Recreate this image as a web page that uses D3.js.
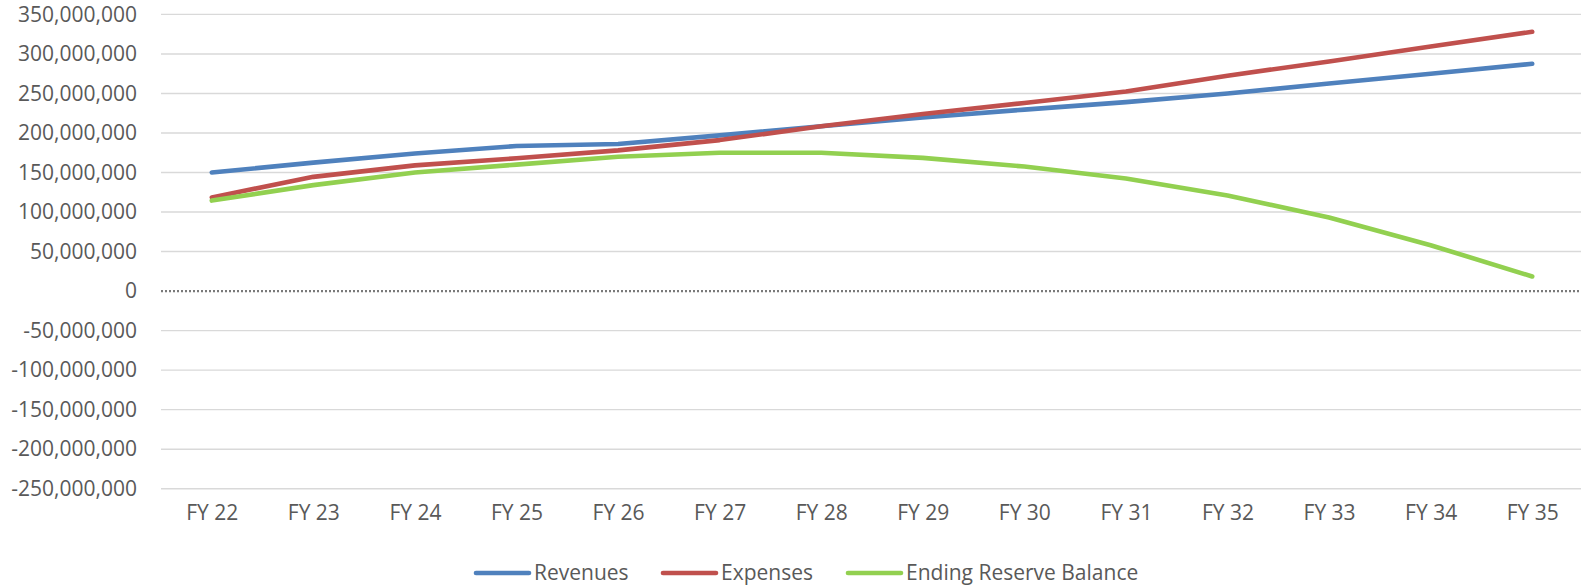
<!DOCTYPE html>
<html>
<head>
<meta charset="utf-8">
<script src="https://cdn.jsdelivr.net/npm/d3@7"></script>
<style>
  html, body { margin: 0; padding: 0; background: #fff; overflow: hidden; }
  svg { display: block; }
  text { font-family: "Open Sans", "Liberation Sans", sans-serif; fill: #595959; }
</style>
</head>
<body>
<svg id="chart" width="1581" height="586"></svg>
<script>
// Fiscal years on the category axis
const years = ["FY 22", "FY 23", "FY 24", "FY 25", "FY 26", "FY 27", "FY 28",
               "FY 29", "FY 30", "FY 31", "FY 32", "FY 33", "FY 34", "FY 35"];

// Projected amounts per year
const revenues = [150000000, 162500000, 174000000, 183500000, 186000000, 197000000, 208500000,
                  219500000, 229500000, 239000000, 250000000, 262500000, 275000000, 287500000];
const expenses = [118500000, 144500000, 159000000, 168000000, 178000000, 191000000, 208500000,
                  224000000, 238000000, 252500000, 272500000, 290500000, 309500000, 328000000];
const reserve  = [114500000, 134000000, 150000000, 160000000, 170000000, 175000000, 175000000,
                  168500000, 157500000, 142500000, 121000000, 93000000, 58000000, 18500000];

// Value axis ticks
const yTicks = [-250000000, -200000000, -150000000, -100000000, -50000000, 0,
                50000000, 100000000, 150000000, 200000000, 250000000, 300000000, 350000000];

const seriesNames = ["Revenues", "Expenses", "Ending Reserve Balance"];
const seriesColors = ["#4F81BD", "#C0504D", "#92D050"];
const seriesValues = [revenues, expenses, reserve];

const svg = d3.select("#chart");

const plotLeft = 161, plotRight = 1583;
const x = d3.scalePoint().domain(years).range([plotLeft, plotRight]).padding(0.5);
const y = d3.scaleLinear().domain([-250000000, 350000000]).range([488.7, 14.4]);

// Thousands separators with a plain hyphen for negatives
const fmt = d3.formatLocale({ decimal: ".", thousands: ",", grouping: [3], currency: ["", ""], minus: "-" }).format(",");

// Horizontal gridlines (zero drawn separately as a dotted line)
svg.append("g")
  .selectAll("line")
  .data(yTicks.filter(d => d !== 0))
  .join("line")
  .attr("x1", plotLeft).attr("x2", 1581)
  .attr("y1", d => y(d)).attr("y2", d => y(d))
  .attr("stroke", "#D9D9D9")
  .attr("stroke-width", 1.4);

svg.append("line")
  .attr("x1", plotLeft).attr("x2", 1581)
  .attr("y1", y(0)).attr("y2", y(0))
  .attr("stroke", "#7A7A7A")
  .attr("stroke-width", 2.2)
  .attr("stroke-dasharray", "2,2");

// Y axis labels
const yAxis = d3.axisLeft(y).tickValues(yTicks).tickFormat(d => fmt(d)).tickSize(0).tickPadding(0);
const yg = svg.append("g").attr("transform", "translate(137,0)").call(yAxis);
yg.select(".domain").remove();
yg.selectAll("text")
  .attr("font-size", 21)
  .attr("fill", "#595959")
  .attr("font-family", "'Open Sans', sans-serif");

// X axis labels
const xAxis = d3.axisBottom(x).tickSize(0).tickPadding(0);
const xg = svg.append("g").attr("transform", "translate(0,505)").call(xAxis);
xg.select(".domain").remove();
xg.selectAll("text")
  .attr("font-size", 21)
  .attr("fill", "#595959")
  .attr("font-family", "'Open Sans', sans-serif");

// Series lines
const line = d3.line()
  .x((d, i) => x(years[i]))
  .y(d => y(d));

svg.append("g")
  .selectAll("path")
  .data(seriesValues)
  .join("path")
  .attr("d", d => line(d))
  .attr("fill", "none")
  .attr("stroke", (d, i) => seriesColors[i])
  .attr("stroke-width", 4.6)
  .attr("stroke-linecap", "round")
  .attr("stroke-linejoin", "round");

// Legend
const legendX = [476, 663, 848];
const legend = svg.append("g")
  .selectAll("g")
  .data(seriesNames)
  .join("g")
  .attr("transform", (d, i) => `translate(${legendX[i]},573)`);

legend.append("line")
  .attr("x1", 0).attr("x2", 53)
  .attr("y1", 0).attr("y2", 0)
  .attr("stroke", (d, i) => seriesColors[i])
  .attr("stroke-width", 4.6)
  .attr("stroke-linecap", "round");

legend.append("text")
  .attr("x", 58)
  .attr("y", 0)
  .attr("dy", "0.35em")
  .attr("font-size", 21)
  .text(d => d);
</script>
</body>
</html>
